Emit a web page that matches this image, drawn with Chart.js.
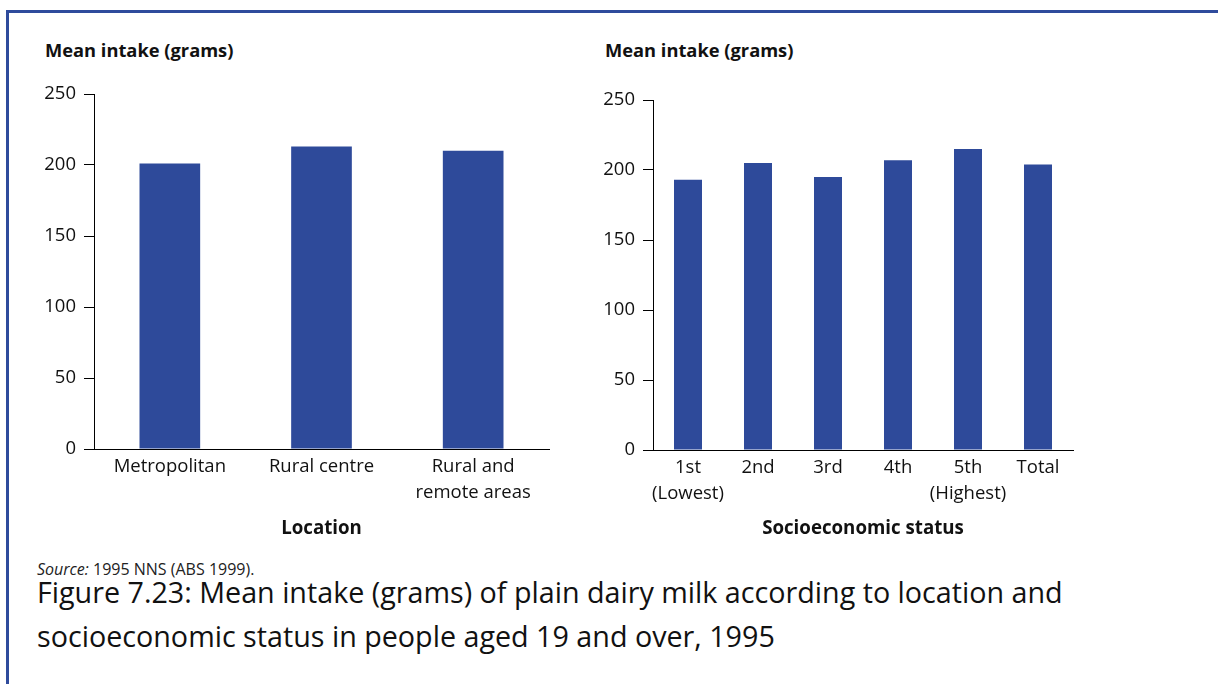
<!DOCTYPE html>
<html>
<head>
<meta charset="utf-8">
<script src="https://cdn.jsdelivr.net/npm/chart.js@4"></script>
<style>
  html, body { margin: 0; padding: 0; background: #fff; }
  body { width: 1218px; height: 684px; position: relative; overflow: hidden; font-family: "Open Sans", sans-serif; color: #111; }
  .frame { position: absolute; left: 6px; top: 10px; width: 1300px; height: 800px; border-top: 3px solid #2f4b9c; border-left: 3px solid #2f4b9c; }
  .ytitle { position: absolute; font-weight: 700; font-size: 18.3px; line-height: 20px; }
  .box { position: absolute; }
  .source { position: absolute; left: 37px; top: 559px; font-size: 16px; line-height: 20px; color: #222; }
  .caption { position: absolute; left: 37px; top: 570px; font-size: 28.7px; line-height: 44px; color: #111; }
</style>
</head>
<body>
<div class="frame"></div>
<div class="ytitle" style="left:45px; top:40px;">Mean intake (grams)</div>
<div class="ytitle" style="left:605px; top:40px;">Mean intake (grams)</div>
<div class="box" style="left:20px; top:60px; width:550px; height:490px;"><canvas id="locChart"></canvas></div>
<div class="box" style="left:580px; top:60px; width:510px; height:490px;"><canvas id="sesChart"></canvas></div>
<div class="source"><i>Source:</i> 1995 NNS (ABS 1999).</div>
<div class="caption">Figure 7.23: Mean intake (grams) of plain dairy milk according to location and<br>socioeconomic status in people aged 19 and over, 1995</div>

<script>
// --- data ---
const locationLabels = ['Metropolitan', 'Rural centre', ['Rural and', 'remote areas']];
const locationIntake = [201, 213, 210];

const sesLabels = [['1st', '(Lowest)'], '2nd', '3rd', '4th', ['5th', '(Highest)'], 'Total'];
const sesIntake = [193, 205, 195, 207, 215, 204];

const yTicks = [0, 50, 100, 150, 200, 250];

const BAR_COLOR = '#2e4a9a';
const FONT = '"Open Sans", sans-serif';

function makeChart(canvasId, labels, values, xTitle, opts) {
    const ctx = document.getElementById(canvasId).getContext('2d');
    return new Chart(ctx, {
        type: 'bar',
        data: {
            labels: labels,
            datasets: [{
                data: values,
                backgroundColor: BAR_COLOR,
                borderWidth: 0,
                categoryPercentage: 1,
                barPercentage: 0.4
            }]
        },
        options: {
            responsive: true,
            maintainAspectRatio: false,
            animation: false,
            layout: { padding: { top: opts.padTop, right: opts.padRight, bottom: 0, left: 0 } },
            plugins: { legend: { display: false }, tooltip: { enabled: false } },
            scales: {
                x: {
                    grid: { display: false, drawTicks: false },
                    border: { display: true, color: '#000', width: 1 },
                    ticks: {
                        color: '#111', padding: 5, maxRotation: 0, autoSkip: false,
                        font: { family: FONT, size: 18.5, lineHeight: 1.38 }
                    },
                    title: {
                        display: true, text: xTitle, color: '#111',
                        font: { family: FONT, size: 18.7, weight: '700' },
                        padding: { top: 0, bottom: 10 }
                    },
                    afterFit: s => { s.height = opts.xHeight; }
                },
                y: {
                    min: 0, max: 250,
                    afterBuildTicks: s => { s.ticks = yTicks.map(v => ({ value: v })); },
                    grid: { drawOnChartArea: false, drawTicks: true, tickLength: 10, color: '#000', lineWidth: 1 },
                    border: { display: true, color: '#000', width: 1 },
                    ticks: { color: '#111', padding: 8, font: { family: FONT, size: 18.5 } },
                    afterFit: s => { s.width = opts.yWidth; }
                }
            }
        }
    });
}

makeChart('locChart', locationLabels, locationIntake, 'Location',
    { padTop: 34, padRight: 21, xHeight: 101, yWidth: 74 });
makeChart('sesChart', sesLabels, sesIntake, 'Socioeconomic status',
    { padTop: 40, padRight: 17, xHeight: 100, yWidth: 73 });
</script>
</body>
</html>
